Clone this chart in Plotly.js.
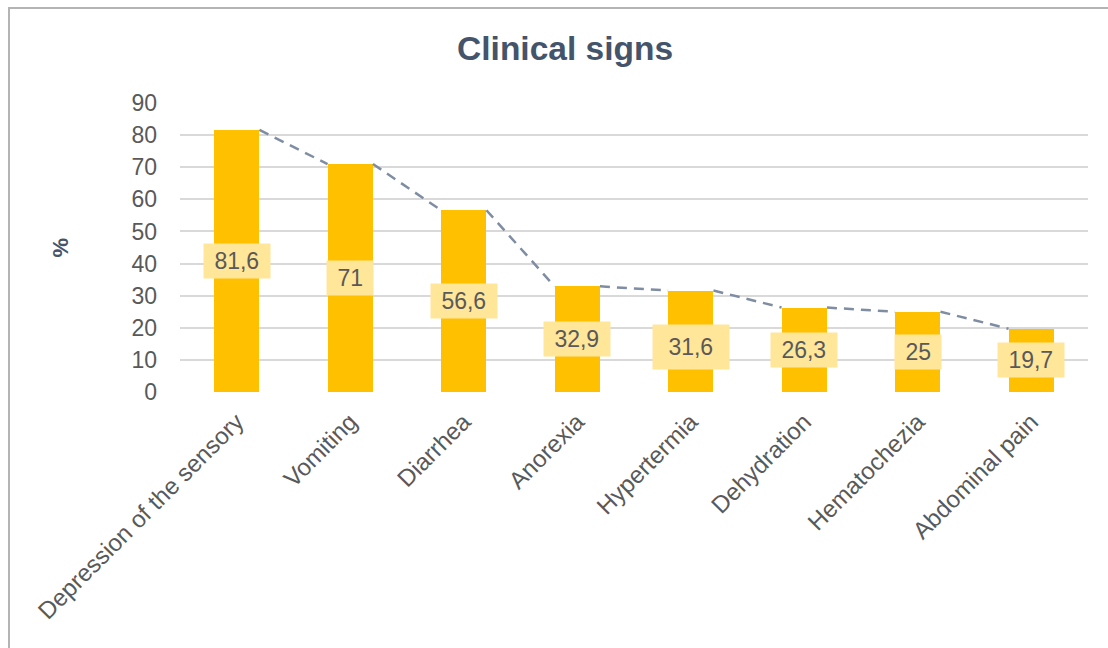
<!DOCTYPE html>
<html>
<head>
<meta charset="utf-8">
<script src="https://cdn.plot.ly/plotly-3.0.1.min.js"></script>
<style>
  html, body { margin: 0; padding: 0; background: #fff; }
  #wrap { position: relative; width: 1108px; height: 648px; overflow: hidden; }
  #frame { position: absolute; left: 8px; top: 7px; width: 1200px; height: 800px;
           border-top: 2px solid #b4b4b4; border-left: 2px solid #b4b4b4; pointer-events: none; }
  #chart { position: absolute; left: 0; top: 0; width: 1108px; height: 648px; }
</style>
</head>
<body>
<div id="wrap">
  <div id="chart"></div>
  <div id="frame"></div>
</div>
<script>
// Clinical signs observed, share of cases (%)
const signs = ['Depression of the sensory', 'Vomiting', 'Diarrhea', 'Anorexia',
               'Hypertermia', 'Dehydration', 'Hematochezia', 'Abdominal pain'];
const percent = [81.6, 71, 56.6, 32.9, 31.6, 26.3, 25, 19.7];
const yTicks = [0, 10, 20, 30, 40, 50, 60, 70, 80, 90];

const FONT = 'Liberation Sans, Arial, sans-serif';
const BAR_W = 0.4;
const idx = signs.map((_, i) => i);

// bars
const bars = {
  type: 'bar',
  x: idx,
  y: percent,
  width: BAR_W,
  marker: { color: '#FFC000', line: { width: 0 } },
  hoverinfo: 'skip',
  showlegend: false
};

// dashed series lines joining the top corners of neighbouring bars
const lx = [], ly = [];
for (let i = 0; i < percent.length - 1; i++) {
  lx.push(idx[i] + BAR_W / 2, idx[i + 1] - BAR_W / 2, null);
  ly.push(percent[i], percent[i + 1], null);
}
const seriesLines = {
  type: 'scatter',
  mode: 'lines',
  x: lx,
  y: ly,
  line: { color: '#7F8DA3', width: 2.5, dash: '10px,7px' },
  hoverinfo: 'skip',
  showlegend: false
};

// value labels in pale boxes, centred on each bar
const NB = '\u00A0';
const labels = percent.map((v, i) => ({
  x: idx[i],
  y: v / 2,
  xref: 'x',
  yref: 'y',
  yshift: i === 4 ? -6 : 0,
  text: NB + String(v).replace('.', ',') + NB,
  showarrow: false,
  font: { family: FONT, size: 23, color: '#595959' },
  bgcolor: '#FFE699',
  borderpad: i === 4 ? 9 : 4,
  xanchor: 'center',
  yanchor: 'middle'
}));

labels.push({
  x: 0, y: 0.5, xref: 'paper', yref: 'paper',
  xshift: -120,
  text: '%',
  textangle: -90,
  showarrow: false,
  font: { family: FONT, size: 22, color: '#44546A', weight: 'bold' },
  xanchor: 'center', yanchor: 'middle'
});

const layout = {
  width: 1108,
  height: 648,
  margin: { l: 180, r: 20, t: 103, b: 256 },
  paper_bgcolor: 'rgba(0,0,0,0)',
  plot_bgcolor: '#ffffff',
  title: {
    text: 'Clinical signs',
    font: { family: FONT, size: 33.5, color: '#44546A', weight: 'bold' },
    x: 0.51, xref: 'container', xanchor: 'center',
    y: 0.926, yref: 'container', yanchor: 'middle'
  },
  xaxis: {
    range: [-0.5, percent.length - 0.5],
    tickvals: idx,
    ticktext: signs,
    tickangle: -45,
    tickfont: { family: FONT, size: 24, color: '#595959' },
    ticks: '',
    ticklabelstandoff: 10,
    showgrid: false,
    zeroline: false,
    showline: false,
    fixedrange: true
  },
  yaxis: {
    range: [0, 90],
    tickvals: yTicks,
    tickfont: { family: FONT, size: 23, color: '#595959' },
    ticks: '',
    ticklabelstandoff: 22,
    showgrid: true,
    gridcolor: '#D9D9D9',
    gridwidth: 2,
    zeroline: false,
    showline: false,
    fixedrange: true
  },
  annotations: labels,
  bargap: 0
};

Plotly.newPlot('chart', [bars, seriesLines], layout, { displayModeBar: false, staticPlot: true });
</script>
</body>
</html>
